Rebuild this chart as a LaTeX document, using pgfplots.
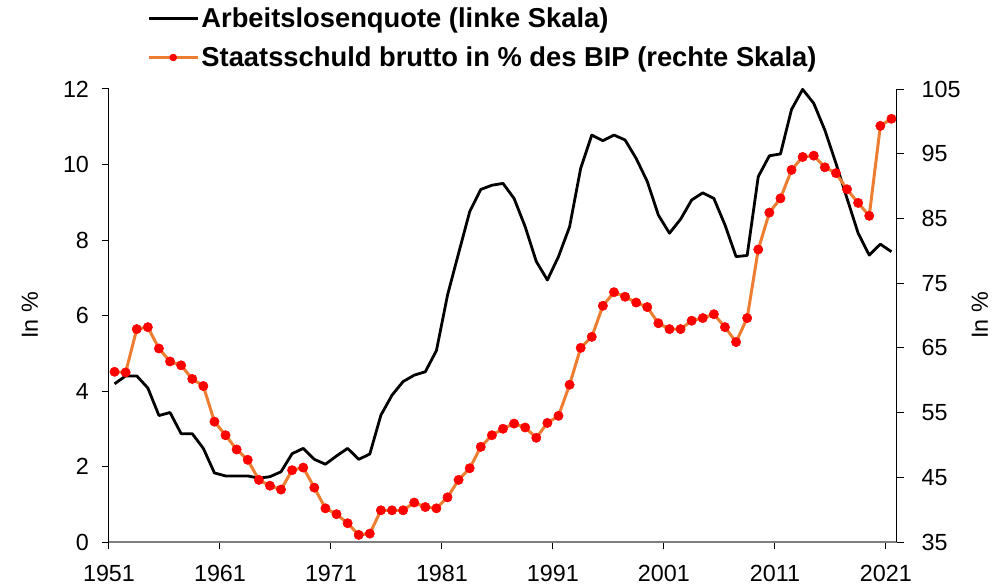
\documentclass[border=0pt]{standalone}
\usepackage{fontspec}
\setmainfont{Liberation Sans}
\usepackage{pgfplots}
\usepackage{pgfplotstable}
\pgfplotsset{compat=1.18}

\definecolor{debtline}{RGB}{237,125,49}
\definecolor{axisgray}{RGB}{128,128,128}

% Arbeitslosenquote, in %
\pgfplotstableread{
year alq
1951 4.19
1952 4.40
1953 4.40
1954 4.08
1955 3.35
1956 3.43
1957 2.87
1958 2.87
1959 2.48
1960 1.83
1961 1.75
1962 1.75
1963 1.75
1964 1.69
1965 1.73
1966 1.86
1967 2.34
1968 2.48
1969 2.19
1970 2.06
1971 2.28
1972 2.48
1973 2.19
1974 2.33
1975 3.36
1976 3.89
1977 4.25
1978 4.42
1979 4.51
1980 5.07
1981 6.54
1982 7.65
1983 8.75
1984 9.34
1985 9.45
1986 9.50
1987 9.10
1988 8.35
1989 7.43
1990 6.94
1991 7.56
1992 8.35
1993 9.90
1994 10.78
1995 10.63
1996 10.78
1997 10.65
1998 10.16
1999 9.55
2000 8.66
2001 8.18
2002 8.55
2003 9.06
2004 9.25
2005 9.10
2006 8.40
2007 7.56
2008 7.59
2009 9.68
2010 10.23
2011 10.28
2012 11.46
2013 11.99
2014 11.62
2015 10.91
2016 10.03
2017 9.10
2018 8.18
2019 7.60
2020 7.89
2021 7.69
}\alqdata

% Staatsschuld brutto, in % des BIP
\pgfplotstableread{
year debt
1951 61.3
1952 61.2
1953 67.9
1954 68.2
1955 64.9
1956 62.9
1957 62.3
1958 60.2
1959 59.1
1960 53.6
1961 51.5
1962 49.3
1963 47.7
1964 44.6
1965 43.7
1966 43.1
1967 46.1
1968 46.5
1969 43.4
1970 40.2
1971 39.3
1972 37.9
1973 36.1
1974 36.3
1975 39.9
1976 39.9
1977 39.9
1978 41.1
1979 40.4
1980 40.2
1981 41.9
1982 44.6
1983 46.4
1984 49.7
1985 51.5
1986 52.5
1987 53.3
1988 52.7
1989 51.1
1990 53.4
1991 54.5
1992 59.3
1993 65.0
1994 66.7
1995 71.5
1996 73.6
1997 72.9
1998 72.0
1999 71.3
2000 68.8
2001 67.9
2002 67.9
2003 69.2
2004 69.6
2005 70.2
2006 68.2
2007 65.9
2008 69.6
2009 80.2
2010 85.9
2011 88.1
2012 92.5
2013 94.5
2014 94.7
2015 92.9
2016 92.0
2017 89.5
2018 87.4
2019 85.4
2020 99.3
2021 100.4
}\debtdata

\pgfplotsset{
  common/.style={
    scale only axis, width=591pt, height=339.75pt,
    at={(0pt,0pt)}, anchor=south west,
    xmin=1950.5, xmax=2021.5,
    clip=false,
    tick align=outside, major tick length=5.5pt,
    tick style={black, line width=0.75pt},
    /pgf/number format/assume math mode=true,
    ticklabel style={font=\fontsize{17.5}{20}\selectfont},
    label style={font=\fontsize{17.5}{20}\selectfont},
  },
}

\begin{document}
\begin{tikzpicture}
\path[use as bounding box] (-81.75pt,-33pt) rectangle (664.5pt,406.5pt);

% left scale: unemployment
\begin{axis}[common,
  ymin=0, ymax=12, ytick={0,2,...,12},
  axis y line*=left, axis x line*=bottom,
  xtick={1950.5,1960.5,1970.5,1980.5,1990.5,2000.5,2010.5,2020.5},
  xticklabels={1951,1961,1971,1981,1991,2001,2011,2021},
  yticklabel style={xshift=-6pt},
  xticklabel style={yshift=-8pt},
  x axis line style={axisgray, line width=1.5pt},
  y axis line style={black, line width=0.75pt},
  ylabel={In \%},
  ylabel style={at={(axis description cs:-0.1003,0.5)}, anchor=center},
]
\addplot[black, line width=2.1pt, line join=round] table[x=year, y=alq] {\alqdata};
\end{axis}

% right scale: debt
\begin{axis}[common,
  ymin=35, ymax=105, ytick={35,45,...,105},
  axis y line*=right, axis x line=none,
  yticklabel style={xshift=9.5pt},
  y axis line style={black, line width=0.75pt},
  ylabel={In \%},
  ylabel style={at={(axis description cs:1.105,0.5)}, anchor=center},
  legend cell align=left,
  legend style={at={(axis description cs:0.048,1.185)}, anchor=north west,
    draw=none, fill=none, inner sep=0pt, row sep=10pt,
    font=\bfseries\fontsize{20.5}{24}\selectfont,
    nodes={inner sep=1.5pt}},
  legend image code/.code={\draw[mark repeat=2, mark phase=2, #1, mark size=2.6pt]
    plot coordinates {(0pt,0pt) (18.5pt,0pt) (37pt,0pt)};},
]
\addlegendimage{black, line width=2.1pt}
\addlegendentry{Arbeitslosenquote (linke Skala)}
\addplot[debtline, line width=2.25pt, line join=round, mark=*, mark size=3.5pt,
  mark options={draw=red, fill=red, line width=0.4pt}]
  table[x=year, y=debt] {\debtdata};
\addlegendentry{Staatsschuld brutto in \% des BIP (rechte Skala)}
\end{axis}
\end{tikzpicture}
\end{document}
